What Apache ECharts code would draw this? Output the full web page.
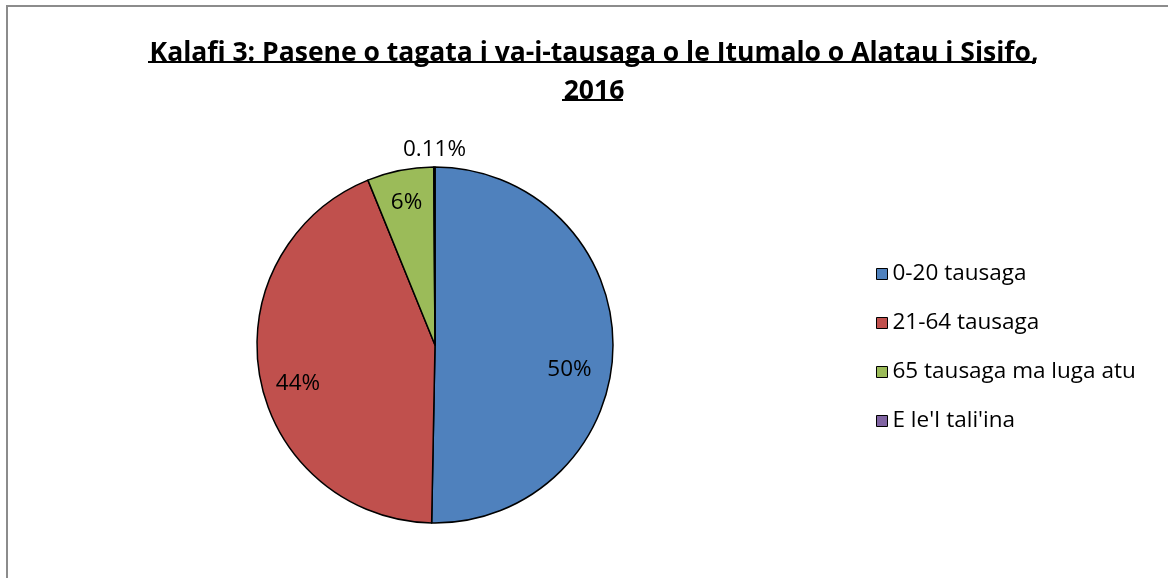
<!DOCTYPE html>
<html>
<head>
<meta charset="utf-8">
<script src="https://cdn.jsdelivr.net/npm/echarts@6/dist/echarts.min.js"></script>
<style>
  html, body { margin: 0; padding: 0; background: #fff; }
  #main { width: 1168px; height: 578px; }
</style>
</head>
<body>
<div id="main"></div>
<script>
// age groups (legend order, clockwise from 12 o'clock)
const categories = ['0-20 tausaga', '21-64 tausaga', '65 tausaga ma luga atu', "E le'I tali'ina"];
// share of population, percent
const shares = [50.3, 43.55, 6.04, 0.11];
const colors = ['#4F81BD', '#C0504D', '#9BBB59', '#8064A2'];
// nudges so the labels sit where Excel put them
const labelOffsets = [[-11, 23], [6, 12], [0, 0], [0, -50]];

const titleLines = ['Kalafi 3: Pasene o tagata i va-i-tausaga o le Itumalo o Alatau i Sisifo,', '2016'];
const FONT = "'Open Sans', 'Noto Sans', sans-serif";

var chartDom = document.getElementById('main');
var myChart = echarts.init(chartDom);

function pctLabel(p) {
  // small slice keeps two decimals, the rest are whole numbers
  return p.percent < 1 ? p.percent.toFixed(2) + '%' : Math.round(p.percent) + '%';
}

var pieData = categories.map(function (name, i) {
  return { name: name, value: shares[i], itemStyle: { color: colors[i] } };
});

// label-only ring so labels sit at ~0.8 of the radius like the original
var labelData = categories.map(function (name, i) {
  return { name: name, value: shares[i], label: { offset: labelOffsets[i] } };
});

var option = {
  animation: false,
  backgroundColor: '#fff',
  title: {
    text: titleLines.join('\n'),
    left: 589,
    top: 29,
    textAlign: 'center',
    textStyle: {
      fontFamily: FONT,
      fontSize: 26.5,
      fontWeight: 'bold',
      color: '#000',
      lineHeight: 38
    }
  },
  legend: {
    orient: 'vertical',
    left: 871,
    top: 257,
    icon: 'rect',
    itemWidth: 11,
    itemHeight: 11,
    itemGap: 25,
    data: categories,
    itemStyle: { borderColor: '#000', borderWidth: 1 },
    textStyle: { fontFamily: FONT, fontSize: 22.5, lineHeight: 24, color: '#000' }
  },
  graphic: [
    {
      type: 'rect',
      shape: { x: 7, y: 6, width: 1200, height: 620 },
      style: { fill: 'none', stroke: '#8c8c8c', lineWidth: 2 },
      silent: true
    },
    {
      type: 'line',
      shape: { x1: 148, y1: 62, x2: 1036, y2: 62 },
      style: { stroke: '#000', lineWidth: 2 },
      silent: true
    },
    {
      type: 'line',
      shape: { x1: 562, y1: 100, x2: 623, y2: 100 },
      style: { stroke: '#000', lineWidth: 2 },
      silent: true
    }
  ],
  series: [
    {
      name: 'main',
      type: 'pie',
      center: [435, 345],
      radius: 178,
      startAngle: 90,
      clockwise: true,
      avoidLabelOverlap: false,
      label: { show: false },
      labelLine: { show: false },
      itemStyle: { borderColor: '#000', borderWidth: 1.5 },
      emphasis: { disabled: true },
      data: pieData
    },
    {
      name: 'labels',
      type: 'pie',
      center: [435, 345],
      radius: [107, 178],
      startAngle: 90,
      clockwise: true,
      silent: true,
      avoidLabelOverlap: false,
      itemStyle: { color: 'rgba(0,0,0,0)', borderWidth: 0 },
      label: {
        show: true,
        position: 'inside',
        formatter: pctLabel,
        fontFamily: FONT,
        fontSize: 22.5,
        color: '#000'
      },
      labelLine: { show: false },
      emphasis: { disabled: true },
      data: labelData
    }
  ]
};

option && myChart.setOption(option);
</script>
</body>
</html>
